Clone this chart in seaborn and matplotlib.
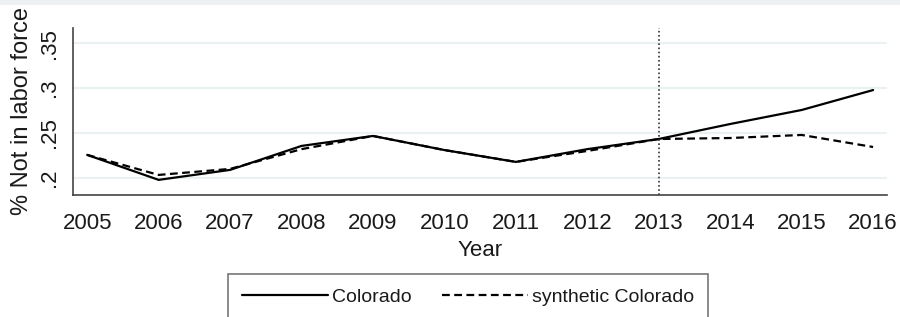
import numpy as np
import pandas as pd
import seaborn as sns
import matplotlib.pyplot as plt
from matplotlib.patches import Rectangle

years = [2005, 2006, 2007, 2008, 2009, 2010, 2011, 2012, 2013, 2014, 2015, 2016]
colorado = [0.2256, 0.1978, 0.2089, 0.2356, 0.2467, 0.2310, 0.2178, 0.2320, 0.2433, 0.2600, 0.2756, 0.2978]
synthetic = [0.2256, 0.2033, 0.2100, 0.2320, 0.2467, 0.2310, 0.2178, 0.2300, 0.2433, 0.2444, 0.2478, 0.2344]
yticks = [0.2, 0.25, 0.3, 0.35]
ytick_labels = ['.2', '.25', '.3', '.35']
treat_year = 2013

sns.set_style('white')
plt.rcParams['font.family'] = ['Liberation Sans', 'DejaVu Sans']
txt = '#1a1a1a'

fig = plt.figure(figsize=(9, 3.17), dpi=100)
fig.patches.append(Rectangle((0, 0.984), 1, 0.016, transform=fig.transFigure,
                             facecolor='#eef1f4', edgecolor='none'))
ax = fig.add_axes([0.081, 0.385, 0.905, 0.527])

df = pd.DataFrame({'Year': years, 'Colorado': colorado, 'synthetic Colorado': synthetic})
sns.lineplot(data=df, x='Year', y='Colorado', ax=ax, color='black', lw=1.6, label='Colorado')
sns.lineplot(data=df, x='Year', y='synthetic Colorado', ax=ax, color='black', lw=1.6,
             linestyle=(0, (3.5, 2)), label='synthetic Colorado')
ax.axvline(treat_year, color='#333333', lw=1.2, linestyle=(0, (1, 1.5)))

ax.set_xlim(2004.8, 2016.2)
ax.set_ylim(0.181, 0.367)
ax.set_xticks(years)
ax.set_xticklabels([str(y) for y in years], fontsize=16, color=txt)
ax.set_yticks(yticks)
ax.set_yticklabels(ytick_labels, fontsize=16, color=txt, rotation=90, va='center')
for y in yticks:
    ax.axhline(y, color='#eaf1f3', lw=1.5, zorder=0)

for s in ['top', 'right']:
    ax.spines[s].set_visible(False)
for s in ['left', 'bottom']:
    ax.spines[s].set_color('#444444')
    ax.spines[s].set_linewidth(1.2)
ax.tick_params(axis='x', direction='out', length=7, width=1.2, color='#444444', pad=6)
ax.tick_params(axis='y', direction='out', length=6, width=1.2, color='#444444', pad=3)

ax.set_xlabel('Year', fontsize=16, color=txt, labelpad=4)
ax.set_ylabel('% Not in labor force', fontsize=17, color=txt)
ax.yaxis.set_label_coords(-0.049, 0.5)

leg = ax.legend(loc='upper center', bbox_to_anchor=(0.52, 0.136), bbox_transform=fig.transFigure,
                ncol=2, fontsize=14, frameon=True, fancybox=False, handlelength=4.4,
                handletextpad=0.2, columnspacing=1.6, borderpad=0.75, borderaxespad=0)
leg.get_frame().set_edgecolor('#555555')
leg.get_frame().set_linewidth(1.2)
for t in leg.get_texts():
    t.set_color(txt)

fig.savefig('out.png', dpi=100)
